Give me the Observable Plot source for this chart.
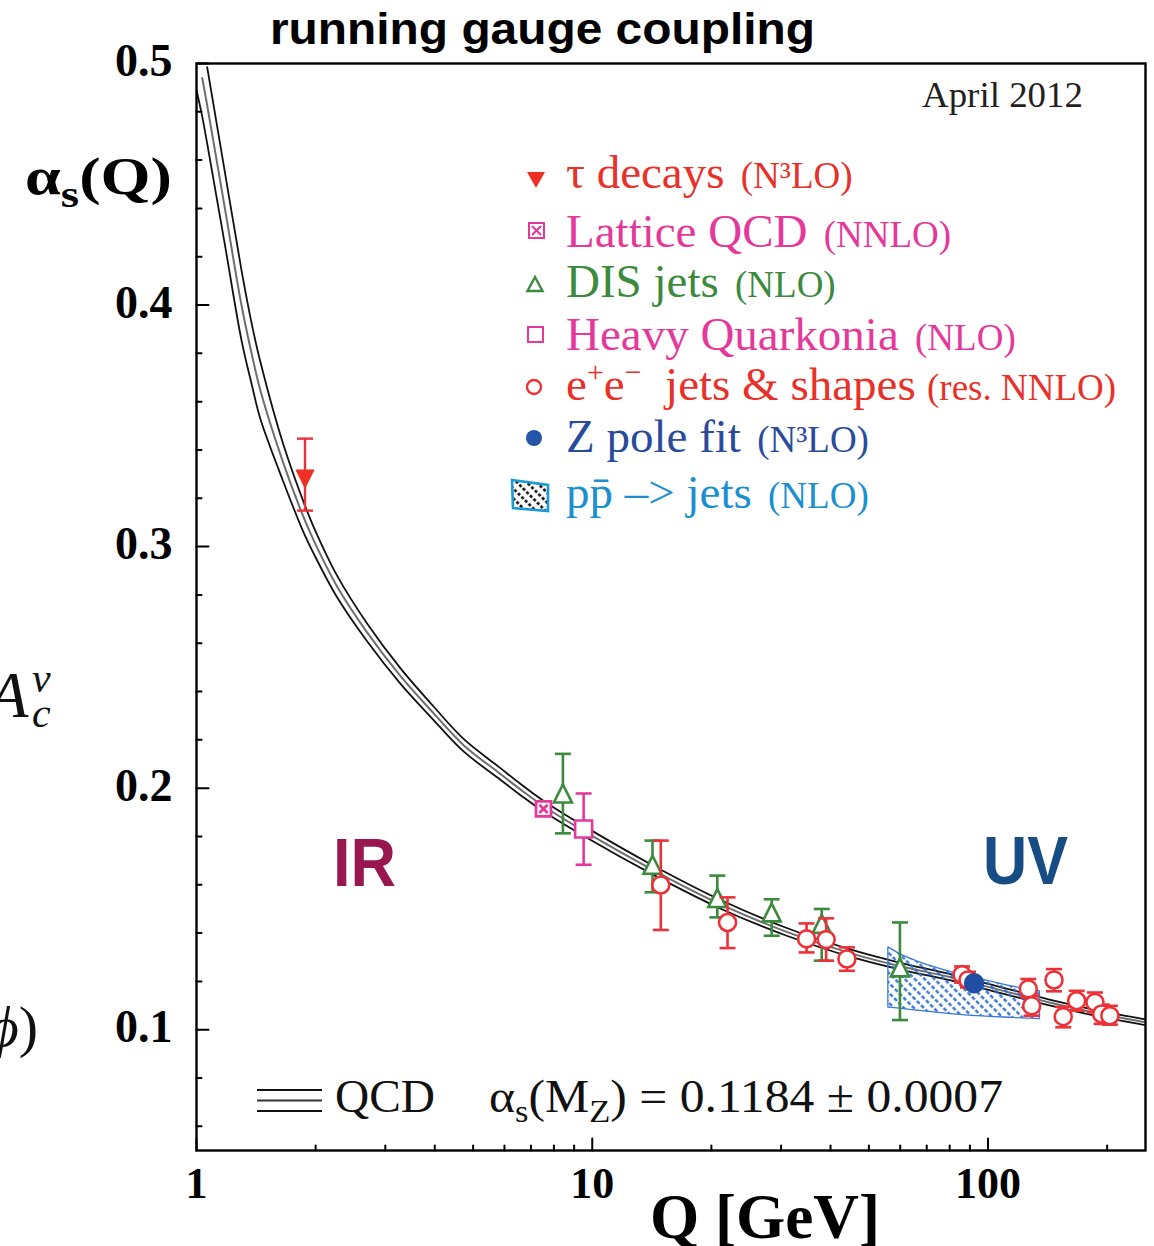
<!DOCTYPE html>
<html>
<head>
<meta charset="utf-8">
<script src="https://cdn.jsdelivr.net/npm/d3@7"></script>
<script src="https://cdn.jsdelivr.net/npm/@observablehq/plot@0.6"></script>
<style>
html,body{margin:0;padding:0;background:#fff;}
#chart{width:1154px;height:1246px;overflow:hidden;}
svg text{white-space:pre;}
</style>
</head>
<body>
<div id="chart"></div>
<script>
// ---------------- data ----------------
// QCD running-coupling band: lower edge, centre, upper edge
const curveQ   = [1.0, 1.034, 1.064, 1.181, 1.299, 1.382, 1.451, 1.65, 1.863, 1.979, 2.266, 2.698, 3.274, 3.973, 4.73, 5.86, 6.58, 7.54, 9.4, 14.28, 21.05, 31, 46, 60, 80, 107, 143, 192, 242, 250];
const curveLo  = [0.489, 0.478, 0.4669, 0.4245, 0.3855, 0.3665, 0.3527, 0.3277, 0.306, 0.297, 0.279, 0.2608, 0.2433, 0.2282, 0.2152, 0.2035, 0.1972, 0.1903, 0.1807, 0.1641, 0.1502, 0.1389, 0.1297, 0.1249, 0.1205, 0.1153, 0.1101, 0.1054, 0.1023, 0.1019];
const curveMid = [null, 0.494, 0.4827, 0.4395, 0.400, 0.379, 0.3645, 0.3355, 0.3123, 0.3025, 0.2835, 0.2645, 0.2465, 0.231, 0.2178, 0.2059, 0.1995, 0.1925, 0.1828, 0.166, 0.152, 0.1405, 0.1312, 0.1263, 0.1218, 0.1165, 0.1113, 0.1066, 0.1035, 0.1031];
const curveHi  = [null, null, 0.4985, 0.4545, 0.4145, 0.3915, 0.3763, 0.3433, 0.3186, 0.308, 0.288, 0.2682, 0.2497, 0.2338, 0.2204, 0.2083, 0.2018, 0.1947, 0.1849, 0.1679, 0.1538, 0.1421, 0.1327, 0.1277, 0.1231, 0.1177, 0.1125, 0.1078, 0.1047, 0.1043];

// tau decays (N3LO)
const tauQ = [1.88], tauA = [0.328], tauLo = [0.3149], tauHi = [0.3447];
// Lattice QCD (NNLO)
const latQ = [7.53], latA = [0.1914], latLo = [0.1893], latHi = [0.1935];
// DIS jets (NLO)
const disQ  = [8.43, 14.2, 20.7, 28.4, 38.0, 59.9];
const disA  = [0.1978, 0.1683, 0.1545, 0.1486, 0.1438, 0.1258];
const disLo = [0.1813, 0.1569, 0.1465, 0.1389, 0.1286, 0.1040];
const disHi = [0.2142, 0.1783, 0.1638, 0.1540, 0.1500, 0.1444];
// Heavy Quarkonia (NLO)
const hqQ = [9.51], hqA = [0.1831], hqLo = [0.1683], hqHi = [0.1978];
// e+e- jets & shapes (res. NNLO)
const eeQ  = [14.9, 21.97, 34.8, 39.0, 44.0, 86.0, 89.0, 126.4, 128.9, 146.8, 154.9, 167.5, 186.3, 193.7, 203.2];
const eeA  = [0.1599, 0.1444, 0.1376, 0.1373, 0.1293, 0.1228, 0.1206, 0.1169, 0.1099, 0.1206, 0.1054, 0.1120, 0.1113, 0.1065, 0.1058];
const eeLo = [0.1413, 0.1338, 0.1320, 0.1286, 0.1244, 0.1195, 0.1175, 0.1134, 0.1058, 0.1159, 0.1010, 0.1079, 0.1072, 0.1024, 0.1021];
const eeHi = [0.1783, 0.1548, 0.1440, 0.1461, 0.1341, 0.1262, 0.1240, 0.1210, 0.1141, 0.1251, 0.1095, 0.1161, 0.1154, 0.1104, 0.1099];
// Z pole fit (N3LO)
const zQ = [92.2], zA = [0.1192], zLo = [0.1174], zHi = [0.1210];
// p pbar -> jets (NLO) band
const ppQ  = [56.0, 59.9, 67.3, 79.4, 99.3, 115.8, 135.3];
const ppLo = [0.1092, 0.1087, 0.1078, 0.1066, 0.1054, 0.1049, 0.1044];
const ppHi = [0.1341, 0.1313, 0.1279, 0.1242, 0.1203, 0.1178, 0.1159];

// axes
const xMajorTicks = [1, 10, 100];
const xMinorTicks = [2, 3, 4, 5, 6, 7, 8, 9, 20, 30, 40, 50, 60, 70, 80, 90, 200];
const yMajorTicks = [0.1, 0.2, 0.3, 0.4, 0.5];
const yMinorTicks = [0.06, 0.08, 0.12, 0.14, 0.16, 0.18, 0.22, 0.24, 0.26, 0.28, 0.32, 0.34, 0.36, 0.38, 0.42, 0.44, 0.46, 0.48];

// legend texts
const legendNames  = ["τ decays", "Lattice QCD", "DIS jets", "Heavy Quarkonia", "e+e−  jets & shapes", "Z pole fit", "pp\u0304 \u2013> jets"];
const legendOrders = ["(N³LO)", "(NNLO)", "(NLO)", "(NLO)", "(res. NNLO)", "(N³LO)", "(NLO)"];

// ---------------- tables ----------------
const RED = "#ec3238", PINK = "#e4399b", GREEN = "#3c8a3d", BLUE = "#1f4fa3", HATCH = "#2a68cc";
const zip = (Q, A, Lo, Hi) => Q.map((q, i) => ({q, a: A[i], lo: Lo[i], hi: Hi[i]}));
const curveAll = curveQ.map((q, i) => ({q, lo: curveLo[i], mid: curveMid[i], hi: curveHi[i]}));
const curveLoD = curveAll.filter(d => d.lo != null);
const curveMidD = curveAll.filter(d => d.mid != null);
const curveHiD = curveAll.filter(d => d.hi != null);
const tau = zip(tauQ, tauA, tauLo, tauHi);
const lat = zip(latQ, latA, latLo, latHi);
const dis = zip(disQ, disA, disLo, disHi);
const hq = zip(hqQ, hqA, hqLo, hqHi);
const ee = zip(eeQ, eeA, eeLo, eeHi);
const zp = zip(zQ, zA, zLo, zHi);
const pp = ppQ.map((q, i) => ({q, lo: ppLo[i], hi: ppHi[i]}));

// ---------------- symbols ----------------
const R = s => Math.sqrt(s / Math.PI);
const hcap = {draw(c, s) { const w = R(s); c.moveTo(-w, 0); c.lineTo(w, 0); }};
const triUp = {draw(c, s) { const r = R(s); c.moveTo(0, -r); c.lineTo(r, r); c.lineTo(-r, r); c.closePath(); }};
const triDown = {draw(c, s) { const r = R(s); c.moveTo(0, r); c.lineTo(r, -r); c.lineTo(-r, -r); c.closePath(); }};
const square = {draw(c, s) { const r = R(s); c.moveTo(-r, -r); c.lineTo(r, -r); c.lineTo(r, r); c.lineTo(-r, r); c.closePath(); }};
const squareX = {draw(c, s) { const r = R(s), k = r * 0.55;
  c.moveTo(-r, -r); c.lineTo(r, -r); c.lineTo(r, r); c.lineTo(-r, r); c.closePath();
  c.moveTo(-k, -k); c.lineTo(k, k); c.moveTo(k, -k); c.lineTo(-k, k); }};
const tickShape = {draw(c, l) { c.moveTo(0, 0); c.lineTo(0, -l); }};

function errMarks(data, color, capR, sw) {
  return [
    Plot.ruleX(data, {x: "q", y1: "lo", y2: "hi", stroke: color, strokeWidth: sw}),
    Plot.dot(data, {x: "q", y: "lo", symbol: hcap, r: capR, stroke: color, strokeWidth: sw, fill: "none"}),
    Plot.dot(data, {x: "q", y: "hi", symbol: hcap, r: capR, stroke: color, strokeWidth: sw, fill: "none"})
  ];
}

const chart = Plot.plot({
  width: 1154, height: 1246,
  marginLeft: 196, marginRight: 9, marginTop: 63, marginBottom: 96,
  x: {type: "log", domain: [1, 250]},
  y: {domain: [0.05, 0.5]},
  style: {background: "#fff", fontFamily: "'Liberation Serif', serif", overflow: "visible"},
  marks: [
    // QCD band
    Plot.line(curveLoD, {x: "q", y: "lo", stroke: "#111", strokeWidth: 1.8, curve: "catmull-rom", clip: true}),
    Plot.line(curveHiD, {x: "q", y: "hi", stroke: "#111", strokeWidth: 1.8, curve: "catmull-rom", clip: true}),
    Plot.line(curveMidD, {x: "q", y: "mid", stroke: "#6e6e6e", strokeWidth: 2, curve: "catmull-rom", clip: true}),
    // p pbar band
    Plot.areaY(pp, {x: "q", y1: "lo", y2: "hi", fill: "url(#ppHatch)", stroke: "#3a78d8", strokeWidth: 1.3, curve: "monotone-x"}),
    // DIS jets
    ...errMarks(dis, GREEN, 8, 2.6),
    Plot.dot(dis, {x: "q", y: "a", symbol: triUp, r: 9, stroke: GREEN, strokeWidth: 2.6, fill: "#fff"}),
    // heavy quarkonia
    ...errMarks(hq, PINK, 8, 2.6),
    Plot.dot(hq, {x: "q", y: "a", symbol: square, r: 8.5, stroke: PINK, strokeWidth: 2.6, fill: "#fff"}),
    // lattice
    ...errMarks(lat, PINK, 4, 2.4),
    Plot.dot(lat, {x: "q", y: "a", symbol: squareX, r: 7.5, stroke: PINK, strokeWidth: 2.8, fill: "#fff"}),
    // e+e-
    ...errMarks(ee, RED, 8, 2.6),
    Plot.dot(ee, {x: "q", y: "a", r: 8.5, stroke: RED, strokeWidth: 2.6, fill: "#fff"}),
    // Z pole
    ...errMarks(zp, BLUE, 7, 2.4),
    Plot.dot(zp, {x: "q", y: "a", r: 9.5, fill: BLUE, stroke: BLUE}),
    // tau
    ...errMarks(tau, RED, 8, 2.4),
    Plot.dot(tau, {x: "q", y: "a", symbol: triDown, r: 9, fill: "#ee3124", stroke: "#ee3124", strokeWidth: 1}),
    // frame & ticks
    Plot.frame({stroke: "#000", strokeWidth: 2.4}),
    Plot.vector(xMajorTicks, {x: d => d, frameAnchor: "bottom", length: 12, rotate: 0, anchor: "start", shape: tickShape, stroke: "#000", strokeWidth: 2}),
    Plot.vector(xMinorTicks, {x: d => d, frameAnchor: "bottom", length: 5, rotate: 0, anchor: "start", shape: tickShape, stroke: "#000", strokeWidth: 2}),
    Plot.vector(yMajorTicks, {y: d => d, frameAnchor: "left", length: 12, rotate: 90, anchor: "start", shape: tickShape, stroke: "#000", strokeWidth: 2}),
    Plot.vector(yMinorTicks, {y: d => d, frameAnchor: "left", length: 5, rotate: 90, anchor: "start", shape: tickShape, stroke: "#000", strokeWidth: 2}),
    Plot.axisX(xMajorTicks, {tickSize: 0, tickPadding: 16, tickFormat: d => String(d), fontSize: 44, fontWeight: "bold", fill: "#000", label: null}),
    Plot.axisY(yMajorTicks, {tickSize: 0, tickPadding: 24, tickFormat: d3.format(".1f"), fontSize: 46, fontWeight: "bold", fill: "#000", dy: -2, label: null})
  ]
});
document.getElementById("chart").appendChild(chart);

// ---------------- annotations ----------------
const svg = d3.select(chart);
svg.insert("defs", ":first-child").html(
  `<pattern id="ppHatch" patternUnits="userSpaceOnUse" width="7" height="12" patternTransform="rotate(-45)">
     <line x1="3.5" y1="0" x2="3.5" y2="12" stroke="${HATCH}" stroke-width="2.2" stroke-dasharray="4 2"/>
   </pattern>
   <pattern id="blackHatch" patternUnits="userSpaceOnUse" width="7" height="10" patternTransform="rotate(-45)">
     <line x1="3.5" y1="0" x2="3.5" y2="10" stroke="#000" stroke-width="2.4" stroke-dasharray="3 2"/>
   </pattern>`);

const ann = svg.append("g").attr("text-anchor", "start");
function label(x, y, attrs, spans) {
  const t = ann.append("text").attr("x", x).attr("y", y).attr("text-anchor", "start");
  for (const k in attrs) t.attr(k, attrs[k]);
  for (const s of spans) {
    const ts = t.append("tspan").text(s.t);
    if (s.fs) ts.attr("font-size", s.fs);
    if (s.dy) ts.attr("dy", s.dy);
    if (s.dx) ts.attr("dx", s.dx);
    if (s.fill) ts.attr("fill", s.fill);
    if (s.style) ts.attr("font-style", s.style);
  }
  return t;
}
const SANS = "'Liberation Sans', Arial, sans-serif", SERIF = "'Liberation Serif', 'Times New Roman', serif";

// title
label(270, 44, {"font-family": SANS, "font-weight": "bold", "font-size": 45, fill: "#000", textLength: 545, lengthAdjust: "spacingAndGlyphs"}, [{t: "running gauge coupling"}]);
// y label
label(25, 194, {"font-family": SERIF, "font-weight": "bold", "font-size": 52, fill: "#000", textLength: 147, lengthAdjust: "spacingAndGlyphs"},
  [{t: "α"}, {t: "s", fs: 38, dy: 13}, {t: "(Q)", fs: 52, dy: -13}]);
// x label
label(650, 1238, {"font-family": SERIF, "font-weight": "bold", "font-size": 64, fill: "#000", textLength: 230, lengthAdjust: "spacingAndGlyphs"}, [{t: "Q [GeV]"}]);
// date
label(922, 107, {"font-family": SERIF, "font-size": 36, fill: "#231f20", textLength: 161, lengthAdjust: "spacingAndGlyphs"}, [{t: "April 2012"}]);
// IR / UV
label(333, 886, {"font-family": SANS, "font-weight": "bold", "font-size": 68, fill: "#98174f", textLength: 63, lengthAdjust: "spacingAndGlyphs"}, [{t: "IR"}]);
label(983, 884, {"font-family": SANS, "font-weight": "bold", "font-size": 68, fill: "#174c84", textLength: 85, lengthAdjust: "spacingAndGlyphs"}, [{t: "UV"}]);
// QCD legend
[1090, 1100.5, 1111].forEach((yy, i) => ann.append("line").attr("x1", 257).attr("x2", 322).attr("y1", yy).attr("y2", yy)
  .attr("stroke", i === 1 ? "#333" : "#111").attr("stroke-width", 2));
label(335, 1112, {"font-family": SERIF, "font-size": 46, fill: "#111", textLength: 100, lengthAdjust: "spacingAndGlyphs"}, [{t: "QCD"}]);
label(489, 1112, {"font-family": SERIF, "font-size": 46, fill: "#111", textLength: 514, lengthAdjust: "spacingAndGlyphs"},
  [{t: "α"}, {t: "s", fs: 32, dy: 10}, {t: "(M", fs: 46, dy: -10}, {t: "Z", fs: 32, dy: 10}, {t: ") = 0.1184 ± 0.0007", fs: 46, dy: -10}]);
// clipped page remnants on the left
label(-12, 717, {"font-family": SERIF, "font-size": 66, "font-style": "italic", fill: "#111"}, [{t: "A"}]);
label(32, 692, {"font-family": SERIF, "font-size": 42, "font-style": "italic", fill: "#111"}, [{t: "ν"}]);
label(32, 727, {"font-family": SERIF, "font-size": 42, "font-style": "italic", fill: "#111"}, [{t: "c"}]);
label(38, 1046, {"font-family": SERIF, "font-size": 58, fill: "#111", "text-anchor": "end"}, [{t: "ϕ", style: "italic"}, {t: ")"}]);

// legend
const legColors = ["#e8312a", PINK, GREEN, PINK, "#e8312a", "#2a4b9b", "#1b8fcf"];
const legBase = [188, 247, 297, 350, 400, 452, 508];
legendNames.forEach((name, i) => {
  let spans;
  if (i === 4) {
    spans = [{t: "e", fs: 47}, {t: "+", fs: 30, dy: -18}, {t: "e", fs: 47, dy: 18}, {t: "−", fs: 30, dy: -18}, {t: name.slice(4), fs: 47, dy: 18}];
  } else spans = [{t: name, fs: 47}];
  spans.push({t: " " + legendOrders[i], fs: 37, dx: i === 4 ? 2 : 7});
  label(566, legBase[i], {"font-family": SERIF, fill: legColors[i]}, spans);
});
const lg = ann.append("g");
lg.append("path").attr("d", "M527,172 L545,172 L536,188 Z").attr("fill", "#ee3124");
lg.append("path").attr("d", "M529,223 h15 v15 h-15 Z M532,226 L541,235 M541,226 L532,235").attr("fill", "none").attr("stroke", PINK).attr("stroke-width", 2);
lg.append("path").attr("d", "M535,277 L542.5,291 L527.5,291 Z").attr("fill", "none").attr("stroke", GREEN).attr("stroke-width", 2.4);
lg.append("path").attr("d", "M528,327 h15 v15 h-15 Z").attr("fill", "none").attr("stroke", PINK).attr("stroke-width", 2);
lg.append("circle").attr("cx", 534).attr("cy", 387).attr("r", 7).attr("fill", "none").attr("stroke", RED).attr("stroke-width", 2.4);
lg.append("circle").attr("cx", 534).attr("cy", 438).attr("r", 8).attr("fill", "#2356a8");
lg.append("path").attr("d", "M512,480 L548,485 L548,511 L513,508 Z").attr("fill", "url(#blackHatch)").attr("stroke", "#1a9ad6").attr("stroke-width", 2.6);
</script>
</body>
</html>
